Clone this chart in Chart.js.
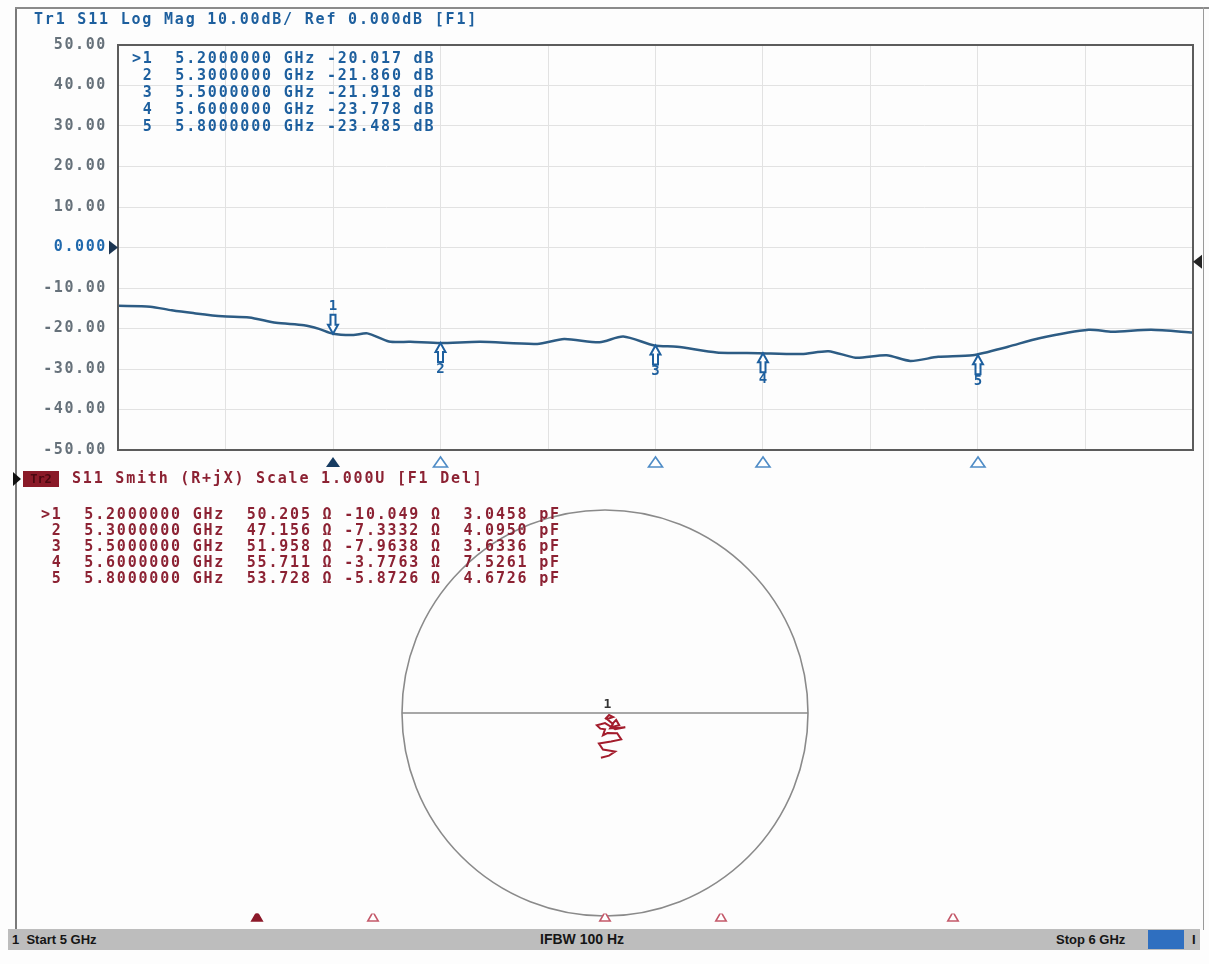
<!DOCTYPE html>
<html>
<head>
<meta charset="utf-8">
<script src="https://cdn.jsdelivr.net/npm/chart.js@4.4.1/dist/chart.umd.min.js"></script>
<style>
  body { margin: 0; background: #fff; }
  #wrap { position: relative; width: 1209px; height: 964px; overflow: hidden; background: #fdfdfd; }
  canvas { position: absolute; }
  .mono { position: absolute; font: bold 15px/15px "DejaVu Sans Mono", monospace; letter-spacing: 1.8px; white-space: pre; }
  .blue { color: #1d5f9e; }
  .red { color: #8c2233; }
  .bar { position: absolute; left: 8px; top: 929px; width: 1192px; height: 21px; background: #bdbdbd; }
  .bt { position: absolute; top: 931px; font: bold 13px/17px "Liberation Sans Narrow", "Liberation Sans", sans-serif; color: #151515; white-space: pre; }
</style>
</head>
<body>
<div id="wrap">
  <div style="position:absolute;left:15px;top:7px;width:2px;height:923px;background:#7a7a7a"></div>
  <div style="position:absolute;left:15px;top:7px;width:1194px;height:2px;background:#8a8a8a"></div>
  <div style="position:absolute;left:1203px;top:7px;width:1px;height:923px;background:#9a9a9a"></div>

  <canvas id="trace" width="1209" height="478" style="left:0;top:0"></canvas>
  <canvas id="smith" width="430" height="430" style="left:390px;top:498px"></canvas>
  <canvas id="stim" width="1209" height="24" style="left:0;top:906px"></canvas>

  <div class="mono blue" style="left:34px;top:12px">Tr1 S11 Log Mag 10.00dB/ Ref 0.000dB [F1]</div>
  <div id="tblTop"></div>

  <div style="position:absolute;left:13px;top:472px;width:0;height:0;border-top:7px solid transparent;border-bottom:7px solid transparent;border-left:8px solid #111"></div>
  <div style="position:absolute;left:23px;top:471px;width:36px;height:16px;background:#8a1a28;color:#4a0810;font:bold 12px/16px 'DejaVu Sans Mono',monospace;text-align:center">Tr2</div>
  <div class="mono red" style="left:72px;top:471px">S11 Smith (R+jX) Scale 1.000U [F1 Del]</div>
  <div id="tblSmith"></div>

  <div class="bar"></div>
  <div class="bt" style="left:12px">1  Start 5 GHz</div>
  <div class="bt" style="left:540px;font-size:14px">IFBW 100 Hz</div>
  <div class="bt" style="left:1056px">Stop 6 GHz</div>
  <div style="position:absolute;left:1148px;top:930px;width:36px;height:19px;background:#2f6fc0"></div>
  <div class="bt" style="left:1192px">I</div>
</div>
<script>
// S11 log-mag trace, 5–6 GHz
const freqGHz = [5.000, 5.030, 5.050, 5.070, 5.097, 5.122, 5.147, 5.173, 5.187, 5.200,
  5.219, 5.232, 5.252, 5.272, 5.300, 5.337, 5.390, 5.415, 5.448, 5.470,
  5.499, 5.520, 5.557, 5.596, 5.636, 5.661, 5.686, 5.715, 5.737, 5.763,
  5.795, 5.828, 5.857, 5.903, 5.925, 5.961, 6.000];
const s11dB = [-14.4, -14.6, -15.5, -16.2, -17.0, -17.3, -18.6, -19.2, -20.1, -21.3,
  -21.6, -21.2, -23.2, -23.3, -23.6, -23.3, -23.8, -22.6, -23.4, -22.0,
  -24.2, -24.5, -25.9, -26.1, -26.3, -25.6, -27.2, -26.6, -28.0, -27.0,
  -26.6, -24.5, -22.4, -20.3, -20.8, -20.3, -21.0];
const yTicks = [50, 40, 30, 20, 10, 0, -10, -20, -30, -40, -50];

// markers
const markerName = ['>1', '2', '3', '4', '5'];
const markerFreq = [5.2, 5.3, 5.5, 5.6, 5.8];
const markerReadDB = ['-20.017', '-21.860', '-21.918', '-23.778', '-23.485'];
const markerLevel = [-21.3, -23.6, -24.2, -26.1, -26.6]; // where the symbols sit on screen
const markerR = ['50.205', '47.156', '51.958', '55.711', '53.728'];
const markerX = ['-10.049', '-7.3332', '-7.9638', '-3.7763', '-5.8726'];
const markerC = ['3.0458', '4.0950', '3.6336', '7.5261', '4.6726'];

// Smith trace (reflection coefficient)
const gammaRe = [-0.02, 0.02, 0.05, -0.01, -0.03, 0.03, 0.08, 0.06, 0.012, -0.01,
  0.00, -0.023, -0.04, 0.00, 0.05, 0.10, 0.025, 0.04, 0.055, 0.07,
  0.03, 0.039, 0.01, 0.04, 0.02, 0.00];
const gammaIm = [-0.22, -0.21, -0.19, -0.18, -0.15, -0.14, -0.13, -0.10, -0.099, -0.11,
  -0.08, -0.077, -0.06, -0.05, -0.08, -0.07, -0.076, -0.05, -0.034, -0.06,
  -0.07, -0.054, -0.03, -0.02, -0.01, -0.03];

const MONO = '"DejaVu Sans Mono", monospace';
const BLUE = '#1d5f9e';

// marker tables as text
function pad(s, n) { return (s + '                ').slice(0, n); }
function lpad(s, n) { return ('                ' + s).slice(-n); }
const topRowsY = [51, 68, 85, 102, 119];
document.getElementById('tblTop').innerHTML = markerFreq.map((f, i) =>
  `<div class="mono blue" style="left:132px;top:${topRowsY[i]}px">${lpad(markerName[i], 2)}  ${f.toFixed(7)} GHz ${markerReadDB[i]} dB</div>`
).join('');
const smithRowsY = [507, 523, 539, 555, 571];
document.getElementById('tblSmith').innerHTML = markerFreq.map((f, i) =>
  `<div class="mono red" style="left:41px;top:${smithRowsY[i]}px">${lpad(markerName[i], 2)}  ${f.toFixed(7)} GHz  ${markerR[i]} Ω ${lpad(markerX[i], 7)} Ω  ${markerC[i]} pF</div>`
).join('');

function tri(ctx, x, y, w, h, up, fill, stroke) {
  ctx.beginPath();
  if (up) { ctx.moveTo(x, y); ctx.lineTo(x - w / 2, y + h); ctx.lineTo(x + w / 2, y + h); }
  else { ctx.moveTo(x, y); ctx.lineTo(x - w / 2, y - h); ctx.lineTo(x + w / 2, y - h); }
  ctx.closePath();
  ctx.fillStyle = fill; ctx.fill();
  if (stroke) { ctx.strokeStyle = stroke; ctx.lineWidth = 1.6; ctx.stroke(); }
}

const traceDeco = {
  id: 'traceDeco',
  beforeDraw(chart) { chart.ctx.letterSpacing = '1.6px'; },
  afterDraw(chart) {
    const { ctx, chartArea: a, scales } = chart;
    ctx.save();
    ctx.letterSpacing = '0px';
    ctx.strokeStyle = '#5c5c5c'; ctx.lineWidth = 2;
    ctx.strokeRect(a.left, a.top, a.right - a.left, a.bottom - a.top);
    // reference level arrows
    const y0 = scales.y.getPixelForValue(0);
    ctx.beginPath(); ctx.moveTo(a.left, y0); ctx.lineTo(a.left - 9, y0 - 7); ctx.lineTo(a.left - 9, y0 + 7); ctx.closePath();
    ctx.fillStyle = '#1b3552'; ctx.fill();
    const yr = scales.y.getPixelForValue(-3.5);
    ctx.beginPath(); ctx.moveTo(a.right, yr); ctx.lineTo(a.right + 9, yr - 7); ctx.lineTo(a.right + 9, yr + 7); ctx.closePath();
    ctx.fillStyle = '#222'; ctx.fill();
    // marker symbols on trace
    const pts = chart.getDatasetMeta(1).data;
    ctx.font = 'bold 14px ' + MONO;
    ctx.textAlign = 'center';
    pts.forEach((p, i) => {
      const x = p.x, y = p.y;
      ctx.lineWidth = 2; ctx.strokeStyle = BLUE; ctx.fillStyle = '#fff';
      if (i === 0) {
        ctx.beginPath();
        ctx.moveTo(x, y); ctx.lineTo(x - 5, y - 9); ctx.lineTo(x - 2.5, y - 9); ctx.lineTo(x - 2.5, y - 19);
        ctx.lineTo(x + 2.5, y - 19); ctx.lineTo(x + 2.5, y - 9); ctx.lineTo(x + 5, y - 9); ctx.closePath();
        ctx.fill(); ctx.stroke();
        ctx.fillStyle = BLUE; ctx.textBaseline = 'bottom';
        ctx.fillText('1', x, y - 20);
      } else {
        ctx.beginPath();
        ctx.moveTo(x, y); ctx.lineTo(x - 5, y + 9); ctx.lineTo(x - 2.5, y + 9); ctx.lineTo(x - 2.5, y + 19);
        ctx.lineTo(x + 2.5, y + 19); ctx.lineTo(x + 2.5, y + 9); ctx.lineTo(x + 5, y + 9); ctx.closePath();
        ctx.fill(); ctx.stroke();
        ctx.fillStyle = BLUE; ctx.textBaseline = 'top';
        ctx.fillText(String(i + 1), x, y + 19);
      }
      // stimulus markers under the grid
      const px = scales.x.getPixelForValue(markerFreq[i]);
      tri(ctx, px, a.bottom + 7, 14, 10, true, i === 0 ? '#173c62' : '#fff', i === 0 ? null : '#4f8cc6');
    });
    ctx.restore();
  }
};

new Chart(document.getElementById('trace'), {
  type: 'scatter',
  data: {
    datasets: [{
      data: freqGHz.map((f, i) => ({ x: f, y: s11dB[i] })),
      showLine: true,
      borderColor: '#2d5c84',
      borderWidth: 2.5,
      pointRadius: 0,
      tension: 0.25
    }, {
      data: markerFreq.map((f, i) => ({ x: f, y: markerLevel[i] })),
      pointRadius: 0
    }]
  },
  options: {
    responsive: false,
    animation: false,
    layout: { padding: { top: 45, right: 16, bottom: 28, left: 0 } },
    plugins: { legend: { display: false }, tooltip: { enabled: false } },
    scales: {
      x: {
        type: 'linear', min: 5, max: 6,
        ticks: { display: false, stepSize: 0.1 },
        grid: { color: '#e2e2e2', drawTicks: false },
        border: { display: false },
        afterFit(s) { s.height = 0; }
      },
      y: {
        min: -50, max: 50,
        afterBuildTicks(s) { s.ticks = yTicks.map(v => ({ value: v })); },
        ticks: {
          padding: 11,
          font: { family: MONO, size: 15, weight: 'bold' },
          color: c => c.tick && c.tick.value === 0 ? '#1f68ac' : '#66717a',
          callback: v => v === 0 ? '0.000' : v.toFixed(2)
        },
        grid: { color: '#e2e2e2', drawTicks: false },
        border: { display: false },
        afterFit(s) { s.width = 118; }
      }
    }
  },
  plugins: [traceDeco]
});

// Smith chart
const markerGamma = markerR.map((r, i) => {
  const R = parseFloat(r), X = parseFloat(markerX[i]);
  const nr = R - 50, dr = R + 50, d = dr * dr + X * X;
  return { x: (nr * dr + X * X) / d, y: (X * dr - nr * X) / d };
});

const smithDeco = {
  id: 'smithDeco',
  beforeDatasetsDraw(chart) {
    const { ctx, scales: { x, y } } = chart;
    const cx = x.getPixelForValue(0), cy = y.getPixelForValue(0);
    const r = x.getPixelForValue(1) - cx;
    ctx.save();
    ctx.strokeStyle = '#8a8a8a'; ctx.lineWidth = 1.6;
    ctx.beginPath(); ctx.arc(cx, cy, r, 0, Math.PI * 2); ctx.stroke();
    ctx.beginPath(); ctx.moveTo(cx - r, cy); ctx.lineTo(cx + r, cy); ctx.stroke();
    ctx.restore();
  },
  afterDatasetsDraw(chart) {
    const { ctx } = chart;
    const p = chart.getDatasetMeta(1).data[0];
    ctx.save();
    ctx.font = 'bold 13px ' + MONO;
    ctx.fillStyle = '#333'; ctx.textAlign = 'center'; ctx.textBaseline = 'bottom';
    ctx.fillText('1', p.x, p.y - 22);
    ctx.restore();
  }
};

new Chart(document.getElementById('smith'), {
  type: 'scatter',
  data: {
    datasets: [{
      data: gammaRe.map((g, i) => ({ x: g, y: gammaIm[i] })),
      showLine: true,
      borderColor: '#a31c2c',
      borderWidth: 2,
      pointRadius: 0
    }, {
      data: markerGamma,
      pointRadius: 0
    }]
  },
  options: {
    responsive: false,
    animation: false,
    layout: { padding: 12 },
    plugins: { legend: { display: false }, tooltip: { enabled: false } },
    scales: {
      x: { min: -1, max: 1, display: false },
      y: { min: -1, max: 1, display: false }
    }
  },
  plugins: [smithDeco]
});

// stimulus marker row under the Smith chart
new Chart(document.getElementById('stim'), {
  type: 'scatter',
  data: {
    datasets: [{
      data: markerFreq.map(f => ({ x: f, y: 0 })),
      pointStyle: 'triangle',
      pointRadius: 6,
      borderWidth: 1.6,
      backgroundColor: markerFreq.map((f, i) => i === 0 ? '#8c1a2a' : '#fff'),
      borderColor: markerFreq.map((f, i) => i === 0 ? '#8c1a2a' : '#c4596a')
    }]
  },
  options: {
    responsive: false,
    animation: false,
    layout: { padding: { left: 25, right: 24, top: 0, bottom: 0 } },
    plugins: { legend: { display: false }, tooltip: { enabled: false } },
    scales: {
      x: { min: 5, max: 6, display: false },
      y: { min: -1, max: 1, display: false }
    }
  }
});
</script>
</body>
</html>
